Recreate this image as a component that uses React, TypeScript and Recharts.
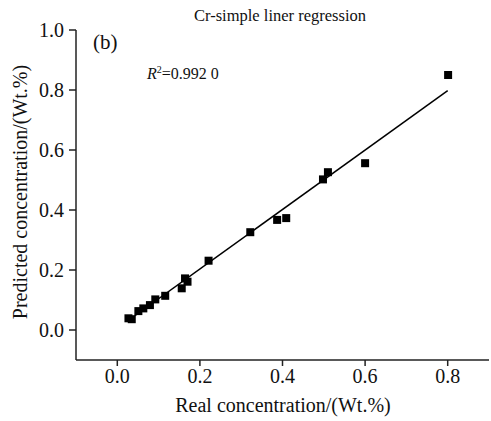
import { ScatterChart, Scatter, XAxis, YAxis } from "recharts";

// measured (x) vs predicted (y), wt.%
const realConc = [0.027, 0.035, 0.051, 0.063, 0.079, 0.092, 0.116, 0.156, 0.164, 0.17, 0.221, 0.322, 0.387, 0.409, 0.498, 0.51, 0.6, 0.801];
const predConc = [0.039, 0.036, 0.063, 0.072, 0.083, 0.102, 0.114, 0.139, 0.172, 0.161, 0.231, 0.326, 0.367, 0.373, 0.502, 0.526, 0.556, 0.85];

// fitted line end points
const fitX = [0.025, 0.8];
const fitY = [0.03, 0.798];

const xTicks = [0, 0.2, 0.4, 0.6, 0.8];
const yTicks = [0, 0.2, 0.4, 0.6, 0.8, 1.0];

const FONT = "Liberation Serif";

const points = realConc.map((x, i) => ({ x, y: predConc[i] }));
const fit = fitX.map((x, i) => ({ x, y: fitY[i] }));

function SquareDot(props: any) {
  const { cx, cy } = props;
  if (cx == null || cy == null) return <g />;
  return <rect x={cx - 4} y={cy - 4} width={8} height={8} fill="#000" />;
}

const tickStyle = { fontSize: 20, fill: "#111", fontFamily: FONT };

export default function App() {
  return (
    <div style={{ position: "absolute", left: 0, top: 0, width: 491, height: 421, background: "#fff", fontFamily: FONT, color: "#111" }}>
      <ScatterChart width={491} height={421} margin={{ top: 30, right: 2, bottom: 0, left: 0 }}>
        <XAxis
          type="number"
          dataKey="x"
          domain={[-0.1, 0.9]}
          ticks={xTicks}
          tickFormatter={(v: number) => v.toFixed(1)}
          height={61}
          tickSize={6}
          tickMargin={3}
          tick={tickStyle}
          axisLine={{ stroke: "#222", strokeWidth: 1.5 }}
          tickLine={{ stroke: "#222", strokeWidth: 1.5 }}
          allowDataOverflow
        />
        <YAxis
          type="number"
          dataKey="y"
          domain={[-0.1, 1.0]}
          ticks={yTicks}
          tickFormatter={(v: number) => v.toFixed(1)}
          width={76}
          tickSize={7}
          tickMargin={5}
          tick={tickStyle}
          axisLine={{ stroke: "#222", strokeWidth: 1.5 }}
          tickLine={{ stroke: "#222", strokeWidth: 1.5 }}
          allowDataOverflow
        />
        <Scatter
          data={fit}
          line={{ stroke: "#000", strokeWidth: 1.5 }}
          shape={() => <g />}
          isAnimationActive={false}
        />
        <Scatter data={points} shape={SquareDot} isAnimationActive={false} />
      </ScatterChart>

      <div style={{ position: "absolute", left: 0, width: 560, top: 6, textAlign: "center", fontSize: 16.5, whiteSpace: "nowrap" }}>
        Cr-simple liner regression
      </div>
      <div style={{ position: "absolute", left: 93, top: 30, fontSize: 21 }}>(b)</div>
      <div style={{ position: "absolute", left: 147, top: 64, fontSize: 16, whiteSpace: "nowrap" }}>
        <i>R</i>
        <sup style={{ fontSize: 10 }}>2</sup>=0.992 0
      </div>
      <div style={{ position: "absolute", left: 0, width: 566, top: 394, textAlign: "center", fontSize: 20, whiteSpace: "nowrap" }}>
        Real concentration/(Wt.%)
      </div>
      <div
        style={{
          position: "absolute",
          left: 20,
          top: 192,
          fontSize: 20,
          whiteSpace: "nowrap",
          transform: "translate(-50%, -50%) rotate(-90deg)",
        }}
      >
        Predicted concentration/(Wt.%)
      </div>
    </div>
  );
}
